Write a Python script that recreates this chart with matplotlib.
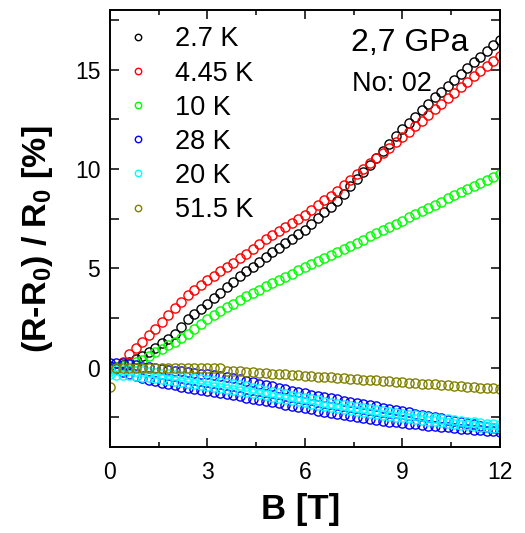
import matplotlib
matplotlib.use('Agg')
from matplotlib import pyplot as plt
from matplotlib.ticker import MultipleLocator, FixedLocator

plt.rcParams['font.family'] = ['Liberation Sans', 'DejaVu Sans']
plt.rcParams['mathtext.fontset'] = 'custom'
plt.rcParams['mathtext.rm'] = 'Liberation Sans'
plt.rcParams['mathtext.bf'] = 'Liberation Sans:bold'

# magnetic field [T]
B = [0.0, 0.2, 0.4, 0.6, 0.8, 1.0, 1.2, 1.4, 1.6, 1.8,
     2.0, 2.2, 2.4, 2.6, 2.8, 3.0, 3.2, 3.4, 3.6, 3.8,
     4.0, 4.2, 4.4, 4.6, 4.8, 5.0, 5.2, 5.4, 5.6, 5.8,
     6.0, 6.2, 6.4, 6.6, 6.8, 7.0, 7.2, 7.4, 7.6, 7.8,
     8.0, 8.2, 8.4, 8.6, 8.8, 9.0, 9.2, 9.4, 9.6, 9.8,
     10.0, 10.2, 10.4, 10.6, 10.8, 11.0, 11.2, 11.4, 11.6, 11.8,
     12.0]

mr_2p7K = [0.00, 0.05, 0.15, 0.28, 0.44, 0.60, 0.80, 1.00, 1.22, 1.46,
           1.70, 2.06, 2.42, 2.72, 2.96, 3.20, 3.48, 3.76, 4.04, 4.32,
           4.60, 4.84, 5.08, 5.32, 5.56, 5.80, 6.03, 6.26, 6.49, 6.72,
           6.95, 7.23, 7.52, 7.81, 8.10, 8.40, 8.76, 9.12, 9.48, 9.84,
           10.20, 10.56, 10.92, 11.28, 11.64, 12.00, 12.32, 12.64, 12.96, 13.28,
           13.60, 13.90, 14.20, 14.50, 14.80, 15.10, 15.38, 15.66, 15.94, 16.22,
           16.50]

mr_4p45K = [0.00, 0.05, 0.30, 0.66, 0.98, 1.30, 1.62, 1.94, 2.28, 2.64,
            3.00, 3.32, 3.64, 3.92, 4.16, 4.40, 4.62, 4.84, 5.06, 5.28,
            5.50, 5.74, 5.98, 6.22, 6.46, 6.70, 6.90, 7.10, 7.30, 7.50,
            7.70, 7.94, 8.18, 8.42, 8.66, 8.90, 9.18, 9.46, 9.74, 10.02,
            10.30, 10.56, 10.82, 11.08, 11.34, 11.60, 11.88, 12.16, 12.44, 12.72,
            13.00, 13.28, 13.56, 13.84, 14.12, 14.40, 14.66, 14.92, 15.18, 15.44,
            15.70]

mr_10K = [0.00, 0.02, 0.07, 0.16, 0.28, 0.40, 0.58, 0.76, 0.94, 1.12,
          1.30, 1.50, 1.70, 1.93, 2.19, 2.45, 2.65, 2.85, 3.04, 3.22,
          3.40, 3.58, 3.76, 3.93, 4.09, 4.25, 4.41, 4.57, 4.73, 4.89,
          5.05, 5.20, 5.35, 5.50, 5.65, 5.80, 5.96, 6.12, 6.28, 6.44,
          6.60, 6.76, 6.92, 7.08, 7.24, 7.40, 7.56, 7.72, 7.88, 8.04,
          8.20, 8.36, 8.52, 8.68, 8.84, 9.00, 9.15, 9.30, 9.45, 9.60,
          9.75]

# 28 K, two sweeps
mr_28K_a = [0.25, 0.24, 0.22, 0.17, 0.11, 0.05, 0.01, -0.03, -0.07, -0.11,
            -0.15, -0.19, -0.23, -0.27, -0.31, -0.35, -0.40, -0.45, -0.50, -0.55,
            -0.60, -0.67, -0.74, -0.81, -0.88, -0.95, -1.02, -1.09, -1.16, -1.23,
            -1.30, -1.36, -1.42, -1.48, -1.54, -1.60, -1.66, -1.72, -1.78, -1.84,
            -1.90, -1.96, -2.02, -2.08, -2.14, -2.20, -2.26, -2.32, -2.38, -2.44,
            -2.50, -2.56, -2.62, -2.68, -2.74, -2.80, -2.86, -2.92, -2.98, -3.04,
            -3.10]
mr_28K_b = [0.10, -0.06, -0.22, -0.35, -0.45, -0.55, -0.62, -0.69, -0.76, -0.83,
            -0.90, -0.96, -1.02, -1.08, -1.14, -1.20, -1.25, -1.30, -1.35, -1.40,
            -1.45, -1.51, -1.57, -1.63, -1.69, -1.75, -1.81, -1.87, -1.93, -1.99,
            -2.05, -2.11, -2.17, -2.23, -2.29, -2.35, -2.40, -2.45, -2.50, -2.55,
            -2.60, -2.64, -2.68, -2.72, -2.76, -2.80, -2.83, -2.86, -2.89, -2.92,
            -2.95, -2.98, -3.01, -3.04, -3.07, -3.10, -3.13, -3.16, -3.19, -3.22,
            -3.25]

# 20 K, two sweeps
mr_20K_a = [-0.15, -0.14, -0.13, -0.14, -0.16, -0.18, -0.22, -0.26, -0.30, -0.34,
            -0.38, -0.43, -0.48, -0.53, -0.58, -0.63, -0.68, -0.73, -0.78, -0.83,
            -0.88, -0.95, -1.02, -1.09, -1.16, -1.23, -1.29, -1.35, -1.41, -1.47,
            -1.53, -1.59, -1.65, -1.71, -1.77, -1.83, -1.88, -1.93, -1.98, -2.03,
            -2.08, -2.13, -2.18, -2.23, -2.28, -2.33, -2.37, -2.41, -2.45, -2.49,
            -2.53, -2.57, -2.61, -2.65, -2.69, -2.73, -2.76, -2.79, -2.82, -2.85,
            -2.88]
mr_20K_b = [-0.35, -0.36, -0.37, -0.40, -0.43, -0.46, -0.50, -0.54, -0.58, -0.62,
            -0.66, -0.71, -0.76, -0.81, -0.86, -0.91, -0.96, -1.01, -1.06, -1.11,
            -1.16, -1.22, -1.28, -1.34, -1.40, -1.46, -1.52, -1.58, -1.64, -1.70,
            -1.76, -1.82, -1.88, -1.94, -2.00, -2.06, -2.11, -2.16, -2.21, -2.26,
            -2.31, -2.35, -2.39, -2.43, -2.47, -2.51, -2.55, -2.59, -2.63, -2.67,
            -2.71, -2.75, -2.79, -2.83, -2.87, -2.91, -2.94, -2.97, -3.00, -3.03,
            -3.06]

mr_51p5K = [-1.00, 0.00, 0.00, 0.00, 0.00, 0.00, 0.00, 0.00, 0.00, 0.00,
            0.00, 0.00, 0.00, 0.00, 0.00, 0.00, 0.00, -0.03, -0.15, -0.17,
            -0.19, -0.21, -0.24, -0.26, -0.28, -0.30, -0.32, -0.35, -0.37, -0.39,
            -0.41, -0.43, -0.46, -0.48, -0.50, -0.52, -0.54, -0.57, -0.59, -0.61,
            -0.63, -0.65, -0.68, -0.70, -0.72, -0.74, -0.76, -0.79, -0.81, -0.83,
            -0.85, -0.87, -0.90, -0.92, -0.94, -0.96, -0.98, -1.01, -1.03, -1.05,
            -1.07]


def make_plot():
    fig = plt.figure(figsize=(5.25, 5.33), dpi=100)
    ax = fig.add_axes([0.2095, 0.1614, 0.7425, 0.8196])

    style = dict(ls='none', marker='o', mfc='none', ms=6.6, mew=1.0)
    ax.plot(B, mr_2p7K, color='#000000', label='2.7 K', **style)
    ax.plot(B, mr_4p45K, color='#ff0000', label='4.45 K', **style)
    ax.plot(B, mr_10K, color='#00ff00', label='10 K', **style)
    ax.plot(B, mr_28K_a, color='#0000ff', label='28 K', **style)
    ax.plot(B, mr_28K_b, color='#0000ff', label='_nolegend_', **style)
    ax.plot(B, mr_20K_a, color='#00ffff', label='20 K', **style)
    ax.plot(B, mr_20K_b, color='#00ffff', label='_nolegend_', **style)
    ax.plot(B, mr_51p5K, color='#808000', label='51.5 K', **style)

    ax.set_xlim(0, 12)
    ax.set_ylim(-4, 18)
    ax.xaxis.set_major_locator(FixedLocator([0, 3, 6, 9, 12]))
    ax.xaxis.set_minor_locator(MultipleLocator(1.5))
    ax.yaxis.set_major_locator(FixedLocator([0, 5, 10, 15]))
    ax.yaxis.set_minor_locator(FixedLocator([-2.5, 2.5, 7.5, 12.5, 17.5]))
    ax.tick_params(which='both', direction='in', top=True, right=True, width=1.1,
                   labelsize=16.5)
    ax.tick_params(which='major', length=6.5)
    ax.tick_params(axis='x', which='major', pad=10)
    ax.tick_params(axis='y', which='major', pad=7)
    ax.tick_params(axis='x', which='minor', length=3.6)
    ax.tick_params(axis='y', which='minor', length=6.5)
    for sp in ax.spines.values():
        sp.set_linewidth(1.4)

    ax.set_xlabel('B [T]', fontsize=25, fontweight='bold')
    ax.xaxis.set_label_coords(0.49, -0.105)
    ax.set_ylabel(r'(R-R$_\mathbf{0}$) / R$_\mathbf{0}$ [%]', fontsize=24.5,
                  fontweight='bold')
    ax.yaxis.set_label_coords(-0.14, 0.476)

    ax.legend(loc='upper left', frameon=False, fontsize=19.5, markerscale=0.7,
              handlelength=0.9, handletextpad=0.9, labelspacing=0.3,
              borderaxespad=0.2, bbox_to_anchor=(0.0, 1.0))

    ax.text(0.77, 0.925, '2,7 GPa', transform=ax.transAxes, fontsize=23,
            ha='center', va='center')
    ax.text(0.62, 0.83, 'No: 02', transform=ax.transAxes, fontsize=19.5,
            ha='left', va='center')

    fig.savefig('out.png', dpi=100)


if __name__ == '__main__':
    make_plot()
